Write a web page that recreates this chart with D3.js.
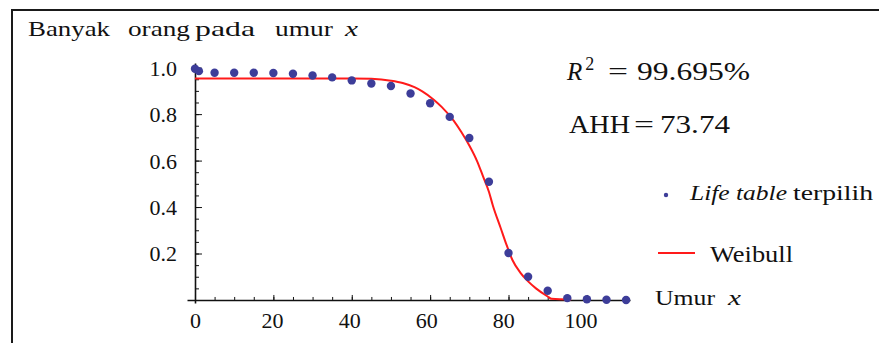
<!DOCTYPE html>
<html>
<head>
<meta charset="utf-8">
<title>Banyak orang pada umur x</title>
<script src="https://d3js.org/d3.v7.min.js"></script>
<style>
	body { margin: 0; background: #fff; }
	svg text { font-family: "Liberation Serif", "Times New Roman", serif; fill: #111; }
	.tick line { stroke: #111; }
	.domain { stroke: #111; stroke-width: 1.6; }
</style>
</head>
<body>
<svg id="chart" width="879" height="343"></svg>
<script>
// life table (points)
var ages = [0, 1, 5, 10, 15, 20, 25, 30, 35, 40, 45, 50, 55, 60, 65, 70, 75, 80, 85, 90, 95, 100, 105, 110];
var lx = [0.995, 0.985, 0.978, 0.978, 0.978, 0.977, 0.974, 0.966, 0.958, 0.945, 0.932, 0.921, 0.889, 0.847, 0.788, 0.697, 0.509, 0.202, 0.100, 0.040, 0.008, 0.003, 0.001, 0.0];

// weibull fit
var fitAge = [0, 40, 45, 50, 53, 56, 58, 61, 63, 66, 68, 70, 72, 73.5, 75, 76, 78, 79.5, 81, 83, 85, 87, 90, 91, 96];
var fitVal = [0.9535, 0.9535, 0.952, 0.944, 0.934, 0.916, 0.898, 0.861, 0.830, 0.772, 0.722, 0.665, 0.597, 0.532, 0.466, 0.407, 0.31, 0.237, 0.172, 0.118, 0.08, 0.05, 0.015, 0.005, 0.002];

var xTicks = [0, 20, 40, 60, 80, 100];
var yTicks = [0.2, 0.4, 0.6, 0.8, 1.0];

var svg = d3.select("#chart");

// frame
svg.append("rect")
	.attr("x", 12).attr("y", 10)
	.attr("width", 880).attr("height", 350)
	.attr("fill", "none")
	.attr("stroke", "#1a1a1a")
	.attr("stroke-width", 2);

var x = d3.scaleLinear().domain([-2.04, 111]).range([187, 630]);
var y = d3.scaleLinear().domain([-0.013, 1.02]).range([303, 63]);

// minor ticks
svg.append("g")
	.attr("transform", "translate(" + x(0) + ",0)")
	.call(d3.axisLeft(y).tickValues(d3.range(0.05, 1.001, 0.05)).tickSizeInner(-4).tickSizeOuter(0).tickFormat(""))
	.call(g => g.select(".domain").remove());
svg.append("g")
	.attr("transform", "translate(0," + y(0) + ")")
	.call(d3.axisBottom(x).tickValues(d3.range(5, 111, 5)).tickSizeInner(-3).tickSizeOuter(0).tickFormat(""))
	.call(g => g.select(".domain").remove());

// y axis
var yAxis = svg.append("g")
	.attr("transform", "translate(" + x(0) + ",0)")
	.call(d3.axisLeft(y).tickValues(yTicks).tickSizeInner(-7).tickSizeOuter(0).tickPadding(18).tickFormat(d3.format(".1f")));
yAxis.selectAll("text").style("font-size", "22px").attr("dy", "0.34em").attr("fill", "#111");

// x axis
var xAxis = svg.append("g")
	.attr("transform", "translate(0," + y(0) + ")")
	.call(d3.axisBottom(x).tickValues(xTicks).tickSizeInner(-5).tickSizeOuter(0).tickPadding(12));
xAxis.selectAll("text").style("font-size", "22px").attr("dy", "0.71em")
	.attr("dx", d => -d * 0.065).attr("fill", "#111");
xAxis.selectAll(".tick line").attr("stroke", "#111");

// fitted curve
var line = d3.line()
	.x((d, i) => x(fitAge[i]))
	.y(d => y(d))
	.curve(d3.curveMonotoneX);
svg.append("path")
	.attr("d", line(fitVal))
	.attr("fill", "none")
	.attr("stroke", "#ff1a1a")
	.attr("stroke-width", 2);

// points
svg.append("g").selectAll("circle")
	.data(lx)
	.join("circle")
	.attr("cx", (d, i) => x(ages[i]))
	.attr("cy", d => y(d))
	.attr("r", 4.2)
	.attr("fill", "#3d3d99");

// titles / notes
function word(str, px, py, size, width, italic) {
	var t = svg.append("text")
		.attr("x", px).attr("y", py)
		.style("font-size", size + "px")
		.text(str);
	if (italic) t.style("font-style", "italic");
	if (width) t.attr("textLength", width).attr("lengthAdjust", "spacingAndGlyphs");
	return t;
}

word("Banyak", 28, 36, 21, 82);
word("orang", 128, 36, 21, 62);
word("pada", 195, 36, 21, 60);
word("umur", 275, 36, 21, 58);
word("x", 345, 36, 21, 13, true);

word("Umur", 655, 305, 22, 60);
word("x", 728, 305, 22, 13, true);

// R^2 and AHH
var r2 = svg.append("text").attr("x", 567).attr("y", 80).style("font-size", "25px");
r2.append("tspan").style("font-style", "italic").text("R");
r2.append("tspan").attr("dx", 3).attr("dy", -10).style("font-size", "18px").text("2");
word("=", 608, 80, 25, 20);
word("99.695%", 637, 80, 25, 113);

word("AHH", 569, 133, 25, 61);
word("=", 634, 133, 25, 20);
word("73.74", 660, 133, 25, 70);

// legend
svg.append("circle").attr("cx", 666).attr("cy", 195).attr("r", 2.2).attr("fill", "#3d3d99");
word("Life table", 690, 200, 22, 97, true);
word("terpilih", 793, 200, 22, 80);

svg.append("line")
	.attr("x1", 658).attr("x2", 695)
	.attr("y1", 253).attr("y2", 253)
	.attr("stroke", "#ff1a1a").attr("stroke-width", 2);
word("Weibull", 710, 262, 24, 83);
</script>
</body>
</html>
